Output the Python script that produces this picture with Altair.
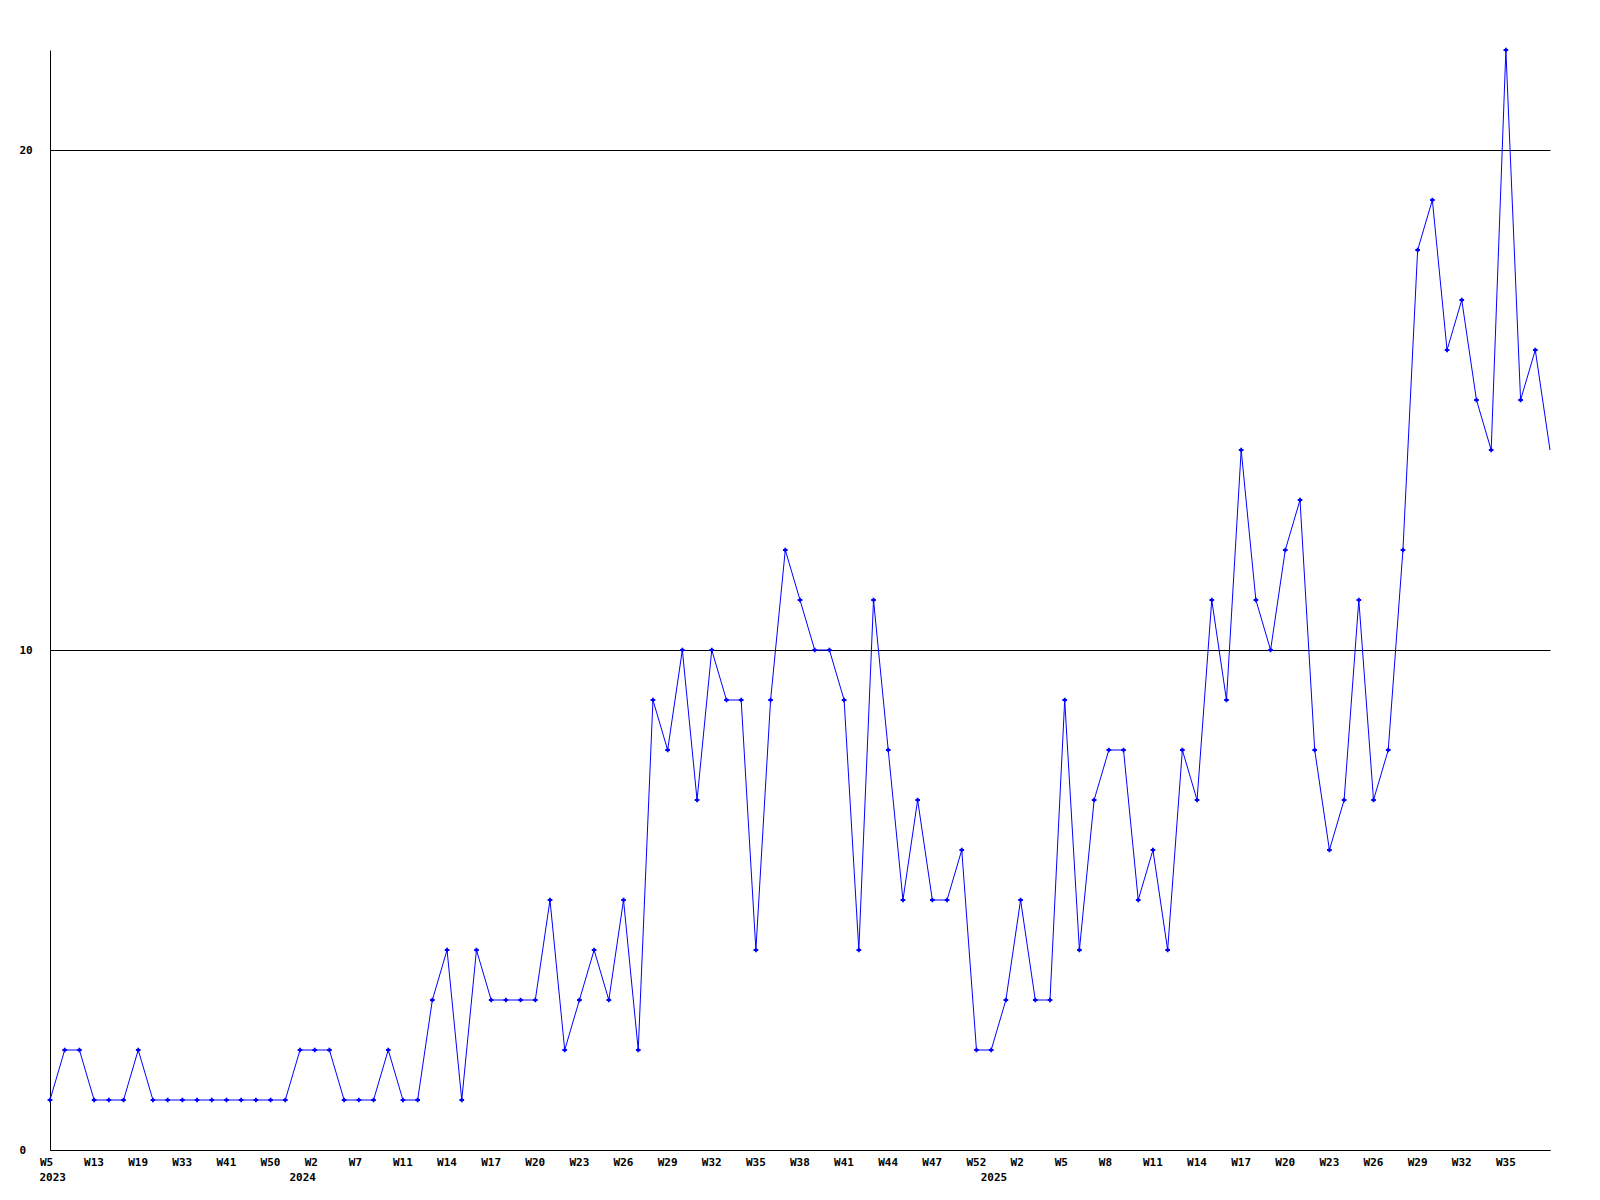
import altair as alt
import pandas as pd

# Weekly values, one per plotted week (equally spaced points)
values = [
    1, 2, 2, 1, 1, 1, 2, 1, 1, 1,
    1, 1, 1, 1, 1, 1, 1, 2, 2, 2,
    1, 1, 1, 2, 1, 1, 3, 4, 1, 4,
    3, 3, 3, 3, 5, 2, 3, 4, 3, 5,
    2, 9, 8, 10, 7, 10, 9, 9, 4, 9,
    12, 11, 10, 10, 9, 4, 11, 8, 5, 7,
    5, 5, 6, 2, 2, 3, 5, 3, 3, 9,
    4, 7, 8, 8, 5, 6, 4, 8, 7, 11,
    9, 14, 11, 10, 12, 13, 8, 6, 7, 11,
    7, 8, 12, 18, 19, 16, 17, 15, 14, 22,
    15, 16, 14,
]

# Tick labels shown at every third point
tick_labels = [
    "W5", "W13", "W19", "W33", "W41", "W50",
    "W2", "W7", "W11", "W14", "W17", "W20", "W23", "W26", "W29", "W32",
    "W35", "W38", "W41", "W44", "W47", "W52",
    "W2", "W5", "W8", "W11", "W14", "W17", "W20", "W23", "W26", "W29",
    "W32", "W35",
]
tick_step = 3

# Year labels and the index of the first week of each year
years = ["2023", "2024", "2025"]
year_start = [0, 17, 64]

y_ticks = [0, 10, 20]

FONT = "DejaVu Sans Mono"
BLUE = "#0000ff"

df = pd.DataFrame({"i": list(range(len(values))), "v": values})
years_df = pd.DataFrame({"i": year_start, "year": years})

n = len(values)
tick_positions = [k * tick_step for k in range(len(tick_labels))]
label_array = "[" + ",".join(f"'{t}'" for t in tick_labels) + "]"

x_scale = alt.Scale(domain=[0, n - 1], nice=False, zero=False)
y_scale = alt.Scale(domain=[0, 22], nice=False)

x_axis = alt.Axis(
    values=tick_positions,
    labelExpr=f"{label_array}[round(datum.value / {tick_step})]",
    title=None,
    grid=False,
    ticks=False,
    domainColor="black",
    domainWidth=1,
    labelFont=FONT,
    labelFontSize=11,
    labelFontWeight="bold",
    labelColor="black",
    labelAlign="left",
    labelBaseline="top",
    labelOffset=-10.5,
    labelPadding=6,
    labelOverlap=False,
    labelFlush=False,
)

y_axis = alt.Axis(
    values=y_ticks,
    title=None,
    grid=True,
    gridColor="black",
    gridOpacity=1,
    gridWidth=1,
    ticks=False,
    domainColor="black",
    domainWidth=1,
    labelFont=FONT,
    labelFontSize=11,
    labelFontWeight="bold",
    labelColor="black",
    labelAlign="left",
    labelBaseline="middle",
    labelPadding=31,
)

base = alt.Chart(df)

line = base.mark_line(color=BLUE, strokeWidth=1, clip=False).encode(
    x=alt.X("i:Q", scale=x_scale, axis=x_axis),
    y=alt.Y("v:Q", scale=y_scale, axis=y_axis),
)

points = base.transform_filter(f"datum.i < {n - 1}").mark_point(
    shape="cross", filled=True, color=BLUE, size=22, opacity=1
).encode(
    x=alt.X("i:Q", scale=x_scale),
    y=alt.Y("v:Q", scale=y_scale),
)

year_text = alt.Chart(years_df).mark_text(
    font=FONT, fontSize=11, fontWeight="bold", color="black",
    align="left", baseline="top", dx=-10.5,
).encode(
    x=alt.X("i:Q", scale=x_scale),
    y=alt.value(1122),
    text="year:N",
)

chart = alt.layer(line, points, year_text).properties(
    width=1500,
    height=1100,
    autosize=alt.AutoSizeParams(type="none"),
    padding={"left": 42, "top": 42, "right": 30, "bottom": 60},
    background="white",
).configure_view(stroke=None)

chart.save("out.html", embed_options={"renderer": "svg", "actions": False})
